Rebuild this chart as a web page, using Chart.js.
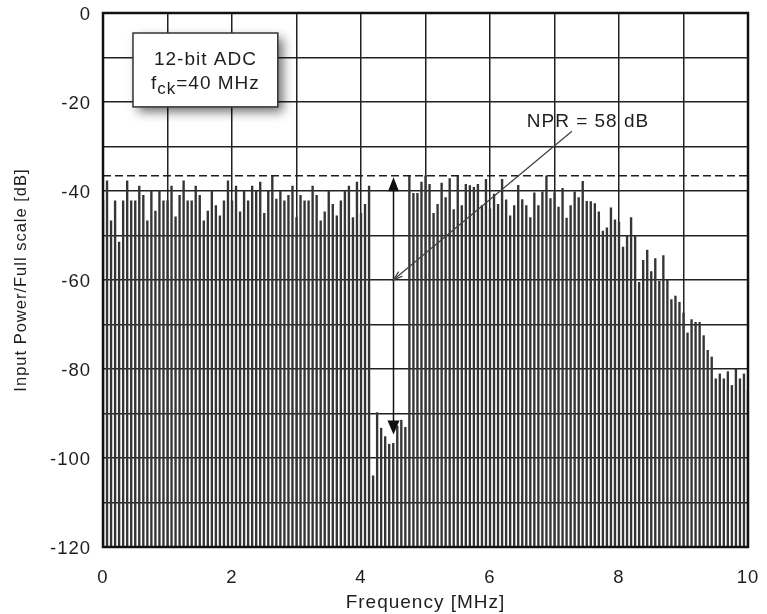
<!DOCTYPE html>
<html>
<head>
<meta charset="utf-8">
<title>NPR spectrum</title>
<script src="https://cdn.jsdelivr.net/npm/chart.js@4.4.1/dist/chart.umd.min.js"></script>
<style>
  html, body { margin: 0; padding: 0; background: #fff; }
  canvas { display: block; }
</style>
</head>
<body>
<canvas id="npr" width="767" height="614"></canvas>
<script>
// Spectrum of a 12-bit ADC driven by notched white noise (fck = 40 MHz).
// One FFT bin every 62.5 kHz from 0 to 10 MHz; levels in dB below full scale.
const binSpacingMHz = 0.0625;
const levelsDb = [
  // 0 - 1 MHz
  -42.2, -37.7, -46.7, -42.2, -51.5, -42.2, -37.7, -42.2, -42.2, -38.9, -41.0, -46.7, -39.9, -44.5, -39.9, -42.2,
  // 1 - 2 MHz
  -42.2, -38.9, -45.8, -41.0, -37.7, -42.2, -42.2, -38.9, -41.0, -46.7, -44.5, -39.9, -43.3, -45.6, -42.2, -37.7,
  // 2 - 3 MHz
  -42.2, -38.9, -44.7, -39.9, -42.2, -38.9, -39.9, -38.0, -45.0, -40.0, -36.6, -41.8, -40.0, -42.2, -41.0, -38.9,
  // 3 - 4 MHz
  -46.0, -41.0, -42.2, -42.2, -38.9, -41.0, -46.7, -44.7, -39.9, -43.0, -45.6, -42.2, -39.9, -38.9, -46.0, -38.0,
  // 4 - 5 MHz (notch)
  -45.0, -43.0, -38.9, -104.0, -89.8, -93.3, -95.2, -96.9, -96.7, -92.8, -91.5, -93.1, -36.6, -40.5, -40.5, -38.0,
  // 5 - 6 MHz
  -36.6, -38.5, -45.0, -43.0, -38.2, -41.5, -37.2, -44.2, -36.6, -43.3, -38.5, -38.8, -39.2, -38.5, -43.3, -37.4,
  // 6 - 7 MHz
  -44.0, -40.7, -43.0, -37.4, -42.0, -45.6, -43.3, -38.7, -41.9, -43.3, -46.0, -40.4, -43.3, -40.2, -36.6, -41.7,
  // 7 - 8 MHz
  -40.4, -43.6, -39.4, -46.1, -43.3, -40.2, -41.5, -37.8, -42.3, -42.4, -42.8, -44.7, -49.0, -48.3, -43.8, -46.5,
  // 8 - 9 MHz
  -47.0, -52.6, -50.0, -46.0, -50.0, -60.5, -55.6, -53.3, -58.1, -55.2, -60.3, -54.5, -60.0, -64.4, -63.6, -65.0,
  // 9 - 10 MHz
  -67.4, -71.9, -68.9, -69.5, -69.5, -72.5, -75.8, -77.3, -82.2, -81.1, -82.2, -80.6, -83.7, -80.0, -82.2, -81.1,
  // 10 MHz
  -84.8
];
const binFreqMHz = levelsDb.map((_, i) => i * binSpacingMHz);

const floorDb = -120;
const noiseLevelDb = -36.6;     // loading level of the noise (dashed reference)
const notchFloorDb = -94.7;     // bottom of the notch
const notchCentreMHz = 4.5;

const xTicksMHz = [0, 2, 4, 6, 8, 10];
const yTicksDb = [-120, -100, -80, -60, -40, -20, 0];

const infoLines = ['12-bit ADC', 'fck=40 MHz'];
const nprText = 'NPR = 58 dB';

const FONT = '"Liberation Sans", Arial, Helvetica, sans-serif';
const INK = '#1e1e1e';

const overlay = {
  id: 'overlay',
  beforeDraw(chart) {
    chart.ctx.letterSpacing = '1px';
  },
  afterDraw(chart) {
    const { ctx, chartArea: a, scales: { x, y } } = chart;
    ctx.save();

    // dashed noise-loading level
    ctx.strokeStyle = INK;
    ctx.lineWidth = 1.5;
    ctx.setLineDash([8, 4]);
    ctx.beginPath();
    ctx.moveTo(a.left, y.getPixelForValue(noiseLevelDb));
    ctx.lineTo(a.right, y.getPixelForValue(noiseLevelDb));
    ctx.stroke();
    ctx.setLineDash([]);

    // double arrow across the notch depth
    const xa = Math.round(x.getPixelForValue(notchCentreMHz)) + 0.5;
    const yTop = y.getPixelForValue(noiseLevelDb) + 1.5;
    const yBot = y.getPixelForValue(notchFloorDb);
    ctx.strokeStyle = '#111';
    ctx.fillStyle = '#111';
    ctx.lineWidth = 1.5;
    ctx.beginPath();
    ctx.moveTo(xa, yTop + 4);
    ctx.lineTo(xa, yBot - 4);
    ctx.stroke();
    ctx.beginPath();
    ctx.moveTo(xa, yTop);
    ctx.lineTo(xa - 5.5, yTop + 14);
    ctx.lineTo(xa + 5.5, yTop + 14);
    ctx.closePath();
    ctx.fill();
    ctx.beginPath();
    ctx.moveTo(xa, yBot);
    ctx.lineTo(xa - 6, yBot - 14);
    ctx.lineTo(xa + 6, yBot - 14);
    ctx.closePath();
    ctx.fill();

    // NPR label and its pointer
    ctx.font = '19px ' + FONT;
    ctx.letterSpacing = '1px';
    ctx.fillStyle = INK;
    ctx.textAlign = 'left';
    ctx.textBaseline = 'alphabetic';
    ctx.fillText(nprText, x.getPixelForValue(6.57), y.getPixelForValue(-25.7));

    const p0 = { x: x.getPixelForValue(7.27), y: y.getPixelForValue(-26.6) };
    const p1 = { x: x.getPixelForValue(4.5), y: y.getPixelForValue(-60.0) };
    ctx.strokeStyle = '#444';
    ctx.lineWidth = 1.3;
    ctx.beginPath();
    ctx.moveTo(p0.x, p0.y);
    ctx.lineTo(p1.x, p1.y);
    ctx.stroke();
    const ang = Math.atan2(p0.y - p1.y, p0.x - p1.x);
    ctx.beginPath();
    ctx.moveTo(p1.x + 10 * Math.cos(ang + 0.3), p1.y + 10 * Math.sin(ang + 0.3));
    ctx.lineTo(p1.x, p1.y);
    ctx.lineTo(p1.x + 10 * Math.cos(ang - 0.3), p1.y + 10 * Math.sin(ang - 0.3));
    ctx.stroke();

    // info box with drop shadow
    const bx0 = x.getPixelForValue(0.465), bx1 = x.getPixelForValue(2.71);
    const by0 = y.getPixelForValue(-4.5), by1 = y.getPixelForValue(-21.1);
    ctx.save();
    ctx.shadowColor = 'rgba(0,0,0,0.55)';
    ctx.shadowBlur = 10;
    ctx.shadowOffsetX = 5;
    ctx.shadowOffsetY = 5;
    ctx.fillStyle = '#fff';
    ctx.fillRect(bx0, by0, bx1 - bx0, by1 - by0);
    ctx.restore();
    ctx.strokeStyle = '#333';
    ctx.lineWidth = 1.5;
    ctx.strokeRect(bx0, by0, bx1 - bx0, by1 - by0);

    const cx = (bx0 + bx1) / 2;
    ctx.fillStyle = INK;
    ctx.font = '19px ' + FONT;
    ctx.textAlign = 'center';
    ctx.fillText(infoLines[0], cx, by0 + 32);
    // second line: f with subscript "ck"
    const main = '=40 MHz';
    ctx.font = '19px ' + FONT;
    const wf = ctx.measureText('f').width;
    const wm = ctx.measureText(main).width;
    ctx.font = '17px ' + FONT;
    const ws = ctx.measureText('ck').width;
    let sx = cx - (wf + ws + wm) / 2;
    const base2 = by0 + 56;
    ctx.textAlign = 'left';
    ctx.font = '19px ' + FONT;
    ctx.fillText('f', sx, base2);
    sx += wf;
    ctx.font = '17px ' + FONT;
    ctx.fillText('ck', sx, base2 + 5);
    sx += ws;
    ctx.font = '19px ' + FONT;
    ctx.fillText(main, sx, base2);

    // plot frame
    ctx.strokeStyle = '#111';
    ctx.lineWidth = 2.5;
    ctx.strokeRect(a.left, a.top, a.right - a.left, a.bottom - a.top);
    ctx.restore();
  }
};

new Chart(document.getElementById('npr'), {
  type: 'bar',
  data: {
    datasets: [{
      data: binFreqMHz.map((f, i) => ({ x: f, y: [floorDb, levelsDb[i]] })),
      backgroundColor: '#353535',
      borderWidth: 0,
      barThickness: 1.7,
      grouped: false
    }]
  },
  options: {
    responsive: false,
    animation: false,
    devicePixelRatio: 1,
    layout: { padding: { top: 13, right: 19, left: 0, bottom: 0 } },
    plugins: { legend: { display: false }, tooltip: { enabled: false } },
    scales: {
      x: {
        type: 'linear',
        min: 0, max: 10,
        offset: false,
        z: 1,
        afterFit(s) { s.height = 67; s.paddingLeft = 0; s.paddingRight = 0; },
        afterBuildTicks(s) { s.ticks = [0,1,2,3,4,5,6,7,8,9,10].map(v => ({ value: v })); },
        ticks: {
          autoSkip: false, maxRotation: 0, padding: 20,
          color: INK, font: { family: FONT, size: 18.5 },
          callback: v => (xTicksMHz.includes(v) ? String(v) : '')
        },
        grid: { color: '#222', lineWidth: 1.5, drawTicks: false, offset: false },
        border: { display: false },
        title: {
          display: true, text: 'Frequency [MHz]', color: INK,
          font: { family: FONT, size: 19 }, padding: { top: 0, bottom: 0 }
        }
      },
      y: {
        min: floorDb, max: 0,
        z: 1,
        afterFit(s) { s.width = 103; s.paddingTop = 0; s.paddingBottom = 0; },
        afterBuildTicks(s) {
          const t = [];
          for (let v = floorDb; v <= 0; v += 10) t.push({ value: v });
          s.ticks = t;
        },
        ticks: {
          autoSkip: false, padding: 12, labelOffset: 2,
          color: INK, font: { family: FONT, size: 18.5 },
          callback: v => (yTicksDb.includes(v) ? String(v) : '')
        },
        grid: { color: '#222', lineWidth: 1.5, drawTicks: false },
        border: { display: false },
        title: {
          display: true, text: 'Input Power/Full scale [dB]', color: INK,
          font: { family: FONT, size: 16.5 }, padding: { top: 12, bottom: 0 }
        }
      }
    }
  },
  plugins: [overlay]
});
</script>
</body>
</html>
